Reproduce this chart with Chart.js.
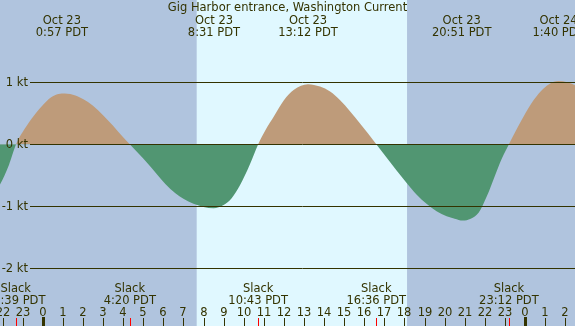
<!DOCTYPE html>
<html>
<head>
<meta charset="utf-8">
<script src="https://cdn.jsdelivr.net/npm/chart.js@4/dist/chart.umd.min.js"></script>
<style>
    html, body { margin: 0; padding: 0; background: #b0c4de; }
    canvas { display: block; }
</style>
</head>
<body>
<canvas id="currentChart" width="575" height="326"></canvas>
<script>

/* =========================
   DATA (hours from Oct 23 00:00 PDT, speed in knots)
========================= */

const hours = [
    -2.6, -2.13, -1.68, -1.33,
    -0.8, -0.3, 0.2, 0.6, 0.95, 1.5, 2.0, 2.5, 3.0, 3.5, 3.9, 4.33,
    4.8, 5.2, 5.7, 6.1, 6.6, 7.0, 7.5, 8.0, 8.5, 9.0, 9.4, 9.8, 10.3, 10.72,
    11.1, 11.5, 12.0, 12.5, 13.2, 13.8, 14.3, 14.8, 15.3, 15.8, 16.2, 16.6,
    17.1, 17.6, 18.1, 18.6, 19.1, 19.6, 20.1, 20.5, 20.9, 21.3, 21.7, 22.1, 22.5, 22.85, 23.2,
    23.5, 23.8, 24.3, 24.8, 25.2, 25.67, 26.1, 26.5, 27.0
];

const speeds = [
    -0.85, -0.65, -0.33, 0,
    0.30, 0.52, 0.70, 0.79, 0.82, 0.80, 0.73, 0.62, 0.47, 0.30, 0.15, 0,
    -0.16, -0.30, -0.49, -0.64, -0.79, -0.88, -0.96, -1.01, -1.03, -0.98, -0.87, -0.67, -0.33, 0,
    0.24, 0.45, 0.71, 0.88, 0.97, 0.93, 0.85, 0.71, 0.53, 0.33, 0.17, 0,
    -0.21, -0.42, -0.62, -0.81, -0.96, -1.08, -1.16, -1.20, -1.23, -1.20, -1.10, -0.84, -0.51, -0.23, 0,
    0.19, 0.37, 0.65, 0.86, 0.97, 1.02, 1.00, 0.95, 0.86
];

const maxTimes  = [0.95, 8.52, 13.2, 20.85, 25.67];
const maxDates  = ['Oct 23', 'Oct 23', 'Oct 23', 'Oct 23', 'Oct 24'];
const maxLabels = ['0:57 PDT', '8:31 PDT', '13:12 PDT', '20:51 PDT', '1:40 PDT'];

const slackTimes  = [-1.35, 4.33, 10.72, 16.6, 23.2];
const slackLabels = ['22:39 PDT', '4:20 PDT', '10:43 PDT', '16:36 PDT', '23:12 PDT'];

const sunrise = 7.66;
const sunset  = 18.13;

const speedTicks = [1, 0, -1, -2];
const hourTicks  = [-2, -1, 0, 1, 2, 3, 4, 5, 6, 7, 8, 9, 10, 11, 12, 13, 14, 15, 16, 17, 18, 19, 20, 21, 22, 23, 24, 25, 26];

const title = 'Gig Harbor entrance, Washington Current';

/* =========================
   STYLE
========================= */

const nightColor = '#b0c4de';
const dayColor   = '#e0f8ff';
const floodColor = '#be9b7a';
const ebbColor   = '#519672';
const inkColor   = '#333300';
const font       = '11.5px "DejaVu Sans"';

/* =========================
   DECORATION PLUGIN
========================= */

const tidePlugin = {

    id: 'tidePlugin',

    beforeDraw(chart) {

        const ctx = chart.ctx;
        const x = chart.scales.x;

        ctx.save();

        ctx.fillStyle = nightColor;
        ctx.fillRect(0, 0, chart.width, chart.height);

        const x1 = x.getPixelForValue(sunrise);
        const x2 = x.getPixelForValue(sunset);

        ctx.fillStyle = dayColor;
        ctx.fillRect(x1, 0, x2 - x1, chart.height);

        ctx.restore();
    },

    afterDatasetsDraw(chart) {

        const ctx = chart.ctx;
        const x = chart.scales.x;
        const y = chart.scales.y;

        ctx.save();
        ctx.font = font;
        ctx.fillStyle = inkColor;
        ctx.strokeStyle = inkColor;

        // speed grid lines and labels
        ctx.lineWidth = 1;
        ctx.textAlign = 'right';
        ctx.textBaseline = 'middle';

        speedTicks.forEach(v => {

            const py = Math.round(y.getPixelForValue(v)) + 0.5;

            ctx.beginPath();
            ctx.moveTo(30, py);
            ctx.lineTo(chart.width, py);
            ctx.stroke();

            ctx.fillText(v + ' kt', 28, py + 1);
        });

        // title
        ctx.textAlign = 'center';
        ctx.textBaseline = 'alphabetic';
        ctx.fillText(title, chart.width / 2, 11);

        // max current labels
        maxTimes.forEach((t, i) => {
            const px = x.getPixelForValue(t);
            ctx.fillText(maxDates[i], px, 24);
            ctx.fillText(maxLabels[i], px, 36);
        });

        // slack labels
        slackTimes.forEach((t, i) => {
            const px = x.getPixelForValue(t);
            ctx.fillText('Slack', px, 292);
            ctx.fillText(slackLabels[i], px, 304);
        });

        // hour ticks and labels
        hourTicks.forEach(h => {

            const px = Math.round(x.getPixelForValue(h));
            const label = ((h % 24) + 24) % 24;

            ctx.fillText(String(label), px, 316);

            if (label === 0) {
                ctx.fillRect(px - 1, 317, 3, 9);
            } else {
                ctx.fillRect(px, 318, 1, 8);
            }
        });

        // slack tick marks
        ctx.fillStyle = '#ff0000';

        slackTimes.forEach(t => {
            const px = Math.round(x.getPixelForValue(t));
            ctx.fillRect(px, 318, 1, 8);
        });

        ctx.restore();
    }
};

/* =========================
   CURRENT CHART
========================= */

const points = hours.map((h, i) => ({ x: h, y: speeds[i] }));

new Chart(document.getElementById('currentChart'), {

    type: 'line',

    data: {
        datasets: [{
            data: points,
            borderWidth: 0,
            borderColor: 'rgba(0,0,0,0)',
            pointRadius: 0,
            cubicInterpolationMode: 'monotone',
            fill: {
                target: 'origin',
                above: floodColor,
                below: ebbColor
            }
        }]
    },

    options: {

        responsive: false,
        devicePixelRatio: 1,
        animation: false,

        layout: { padding: 0 },

        plugins: {
            legend: { display: false },
            tooltip: { enabled: false }
        },

        scales: {

            x: {
                type: 'linear',
                min: -2.13,
                max: 26.49,
                display: false
            },

            y: {
                min: -2.931,
                max: 2.327,
                display: false
            }
        }
    },

    plugins: [tidePlugin]
});

</script>
</body>
</html>
